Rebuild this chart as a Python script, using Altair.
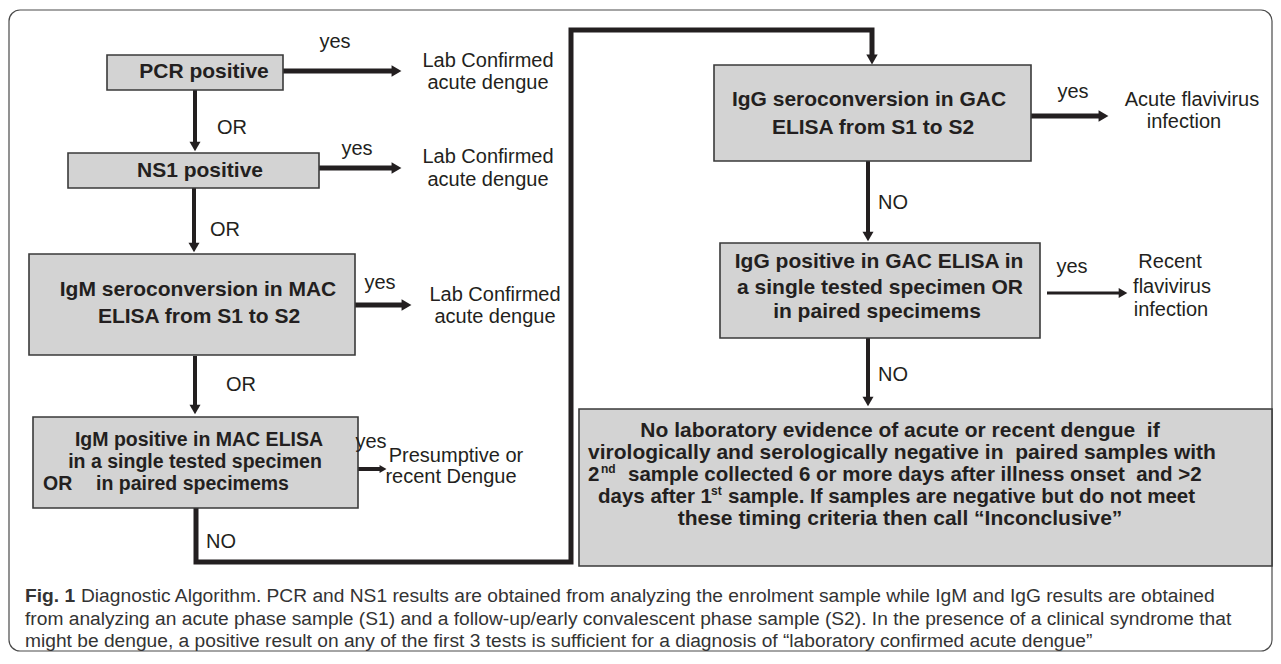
import altair as alt
import pandas as pd

# ---------------- canvas (page pixel coordinates) ----------------
W, H = 1265, 644
PAD = 8
XS = alt.Scale(domain=[PAD, PAD + W], nice=False, zero=False)
YS = alt.Scale(domain=[PAD, PAD + H], nice=False, zero=False, reverse=True)
INK = "#231f20"
FONT = "Liberation Sans"
CAP_FONT = "Liberation Sans"

# ---------------- text content ----------------
box_names = ["PCR", "NS1", "IgM_sero", "IgM_pos", "IgG_sero", "IgG_pos", "final"]

bold_lines = [
    "PCR positive",
    "NS1 positive",
    "IgM seroconversion in MAC",
    "ELISA from S1 to S2",
    "IgG seroconversion in GAC",
    "ELISA from S1 to S2",
    "IgG positive in GAC ELISA in",
    "a single tested specimen OR",
    "in paired specimems",
    "No laboratory evidence of acute or recent dengue\u00a0 if",
    "virologically and serologically negative in\u00a0 paired samples with",
    "these timing criteria then call \u201cInconclusive\u201d",
]
igm_pos_lines = [
    "IgM positive in MAC ELISA",
    "in a single tested specimen",
]
igm_pos_left_lines = ["OR", "in paired specimems"]
bold_left_lines = [
    "2",
    "sample collected 6 or more days after illness onset\u00a0 and >2",
    "days after 1",
    "sample. If samples are negative but do not meet",
]
sup_lines = ["nd", "st"]

outcome_lines = [
    "Lab Confirmed", "acute dengue",
    "Lab Confirmed", "acute dengue",
    "Lab Confirmed", "acute dengue",
    "Presumptive or", "recent Dengue",
    "Acute flavivirus", "infection",
    "Recent", "flavivirus", "infection",
]
edge_labels = ["yes", "yes", "yes", "yes", "yes", "yes",
               "OR", "OR", "OR", "NO", "NO", "NO"]

caption_bold = "Fig. 1"
caption_lines = [
    "Diagnostic Algorithm. PCR and NS1 results are obtained from analyzing the enrolment sample while IgM and IgG results are obtained",
    "from analyzing an acute phase sample (S1) and a follow-up/early convalescent phase sample (S2). In the presence of a clinical syndrome that",
    "might be dengue, a positive result on any of the first 3 tests is sufficient for a diagnosis of \u201claboratory confirmed acute dengue\u201d",
]

# ---------------- layout ----------------
box_x1 = [107, 68, 29, 33, 714, 720, 579]
box_x2 = [283, 319, 355, 358, 1031, 1040, 1272]
box_y1 = [55, 153, 254, 417, 65, 243, 409]
box_y2 = [90, 188, 355, 508, 161, 338, 566]

bold_x = [204, 200, 198, 199, 869, 873, 879, 880, 877, 900, 902, 900]
bold_y = [72, 171, 290, 317, 100, 128, 262, 288, 312, 431, 453, 519]

igm_pos_x = [199, 195]
igm_pos_y = [440, 462]
igm_pos_left_x = [43, 96]
igm_pos_left_y = [484, 484]

bold_left_x = [588, 628, 598, 728]
bold_left_y = [475, 475, 497, 497]
sup_x = [601, 711]
sup_y = [469, 491]

outcome_x = [488, 488, 488, 488, 495, 495, 456, 451, 1192, 1184, 1170, 1172, 1171]
outcome_y = [61, 83, 157, 180, 295, 317, 456, 477, 100, 122, 262, 287, 310]

edge_x = [335, 357, 380, 371, 1073, 1072, 232, 225, 241, 221, 893, 893]
edge_y = [42, 149, 283, 442, 92, 267, 128, 230, 385, 542, 203, 375]

# arrow shafts
shaft_x = [283, 319, 355, 358, 1031, 1047, 195, 194, 195, 868, 868]
shaft_x2 = [392, 392, 402, 382, 1099, 1120, 195, 194, 195, 868, 868]
shaft_y = [71, 168, 305, 469, 116, 293, 90, 188, 356, 161, 338]
shaft_y2 = [71, 168, 305, 469, 116, 293, 143, 244, 406, 233, 398]
shaft_w = [5, 5, 5, 4, 5, 3, 4, 4, 4, 4, 4]

# arrow heads (centre of the symbol)
head_x = [396.5, 396.5, 406.5, 383, 1103.5, 1123, 195, 194, 195, 868, 868, 872]
head_y = [71, 168, 305, 469, 116, 293, 146.5, 247.5, 409.5, 236.5, 401.5, 59.5]
head_shape = ["triangle-right"] * 6 + ["triangle-down"] * 6
head_size = [130, 130, 130, 64, 130, 100, 121, 121, 121, 121, 121, 130]

# the "NO" path from IgM box to IgG box
path_x = [196, 196, 571, 571, 872, 872]
path_y = [508, 562, 562, 30, 30, 56]

cap_x = [81, 25, 25]
cap_y = [596, 618.5, 641]

# ---------------- helpers ----------------
X = lambda f="x": alt.X(f + ":Q", scale=XS, axis=None)
Y = lambda f="y": alt.Y(f + ":Q", scale=YS, axis=None)


def text_layer(xs, ys, texts, size, weight="normal", align="center", font=FONT, color=INK):
    df = pd.DataFrame({"x": xs, "y": ys, "t": texts})
    return alt.Chart(df).mark_text(
        font=font, fontSize=size, fontWeight=weight, align=align,
        baseline="middle", color=color
    ).encode(x=X(), y=Y(), text="t:N")


# frame
frame = alt.Chart(pd.DataFrame({"x": [9], "x2": [1272], "y": [10], "y2": [651]})).mark_rect(
    fill="white", fillOpacity=0, stroke="#4a4a4a", strokeWidth=1.2, cornerRadius=11
).encode(x=X(), x2="x2:Q", y=Y(), y2="y2:Q")

boxes = alt.Chart(pd.DataFrame({"name": box_names, "x": box_x1, "x2": box_x2,
                                "y": box_y1, "y2": box_y2})).mark_rect(
    fill="#d3d3d3", stroke="#3a3a3a", strokeWidth=1.6
).encode(x=X(), x2="x2:Q", y=Y(), y2="y2:Q")

shafts = alt.Chart(pd.DataFrame({"x": shaft_x, "x2": shaft_x2, "y": shaft_y,
                                 "y2": shaft_y2, "w": shaft_w})).mark_rule(
    color=INK, strokeCap="butt"
).encode(x=X(), x2="x2:Q", y=Y(), y2="y2:Q", strokeWidth=alt.StrokeWidth("w:Q", scale=None))

path_df = pd.DataFrame({"x": path_x, "y": path_y, "o": list(range(len(path_x)))})
no_path = alt.Chart(path_df).mark_line(
    color=INK, strokeWidth=5, strokeJoin="miter", strokeCap="butt", interpolate="linear"
).encode(x=X(), y=Y(), order="o:Q")

heads = alt.Chart(pd.DataFrame({"x": head_x, "y": head_y, "s": head_shape,
                                "z": head_size})).mark_point(
    filled=True, color=INK, opacity=1, strokeWidth=0
).encode(x=X(), y=Y(), shape=alt.Shape("s:N", scale=None),
         size=alt.Size("z:Q", scale=None))

t_bold = text_layer(bold_x, bold_y, bold_lines, 21, "bold")
t_igm = text_layer(igm_pos_x, igm_pos_y, igm_pos_lines, 19.5, "bold")
t_igm_left = text_layer(igm_pos_left_x, igm_pos_left_y, igm_pos_left_lines, 19.5, "bold", "left")
t_bold_left = text_layer(bold_left_x, bold_left_y, bold_left_lines, 20.5, "bold", "left")
t_sup = text_layer(sup_x, sup_y, sup_lines, 12, "bold", "left")
t_out = text_layer(outcome_x, outcome_y, outcome_lines, 20)
t_edge = text_layer(edge_x, edge_y, edge_labels, 20)
t_cap_b = text_layer([25], [596], [caption_bold], 19.2, "bold", "left", CAP_FONT, "#333333")
t_cap = text_layer(cap_x, cap_y, caption_lines, 19.2, "normal", "left", CAP_FONT, "#333333")

chart = alt.layer(
    frame, no_path, shafts, heads, boxes,
    t_bold, t_igm, t_igm_left, t_bold_left, t_sup, t_out, t_edge, t_cap_b, t_cap
).properties(
    width=W, height=H, padding=0, autosize=alt.AutoSizeParams(type="none")
).configure_view(strokeWidth=0)

chart.save("out.html", embed_options={"renderer": "svg", "actions": False})
